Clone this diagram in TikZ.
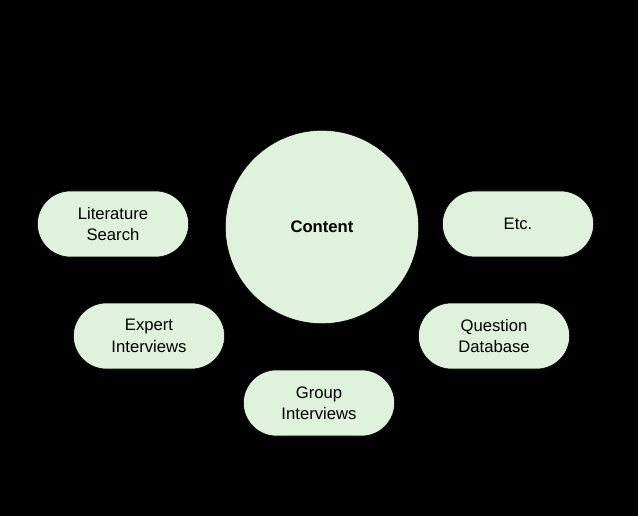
\documentclass[tikz,border=0pt]{standalone}
\usepackage{fontspec}
\setmainfont{Liberation Sans}
\usetikzlibrary{shapes.misc}
\definecolor{paleGreen}{HTML}{DFF3DC}
\tikzset{
  sourcebox/.style={rounded rectangle, draw=black, fill=paleGreen, minimum width=120pt,
    minimum height=49.5pt, align=center, font=\fontsize{12.5}{16}\selectfont},
  hubcircle/.style={circle, draw=black, fill=paleGreen, minimum size=145pt,
    font=\bfseries\fontsize{12.5}{15}\selectfont}
}
\begin{document}
\begin{tikzpicture}[x=0.75pt,y=-0.75pt]
  \fill[black] (0,0) rectangle (638,516);
  \useasboundingbox (0,0) rectangle (638,516);

  \node[hubcircle] (content) at (322,227) {Content};

  \node[sourcebox] (literature) at (113,224) {Literature\\Search};
  \node[sourcebox] (etc) at (518,224) {Etc.};
  \node[sourcebox] (expert) at (149,336) {Expert\\Interviews};
  \node[sourcebox] (question) at (494,336) {Question\\Database};
  \node[sourcebox] (group) at (319,403) {Group\\Interviews};
\end{tikzpicture}
\end{document}
